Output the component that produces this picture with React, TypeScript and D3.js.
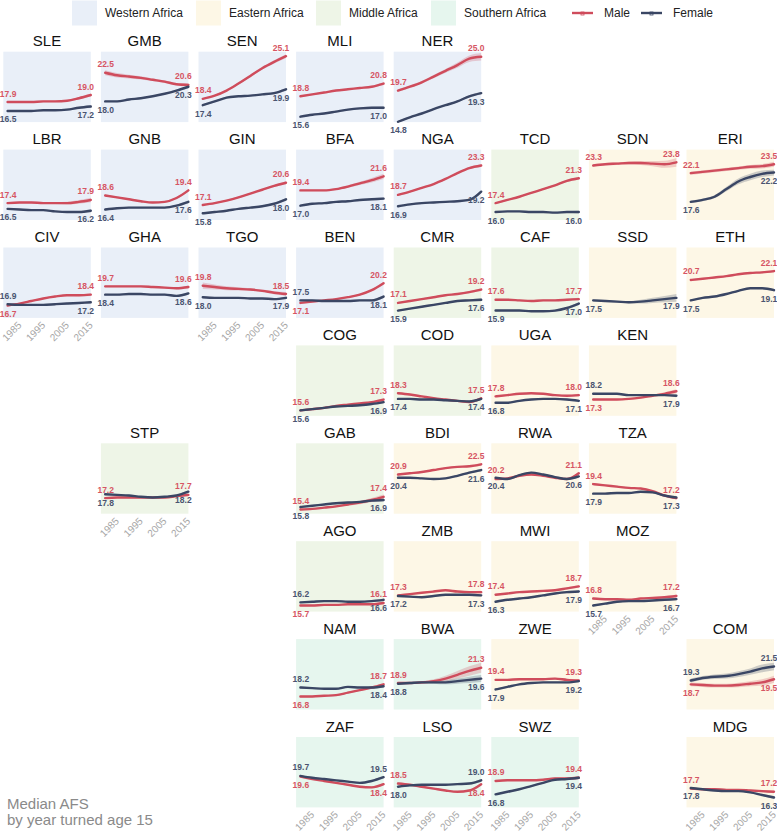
import React from 'react';
import * as d3 from 'd3';

// ---------- data ----------
const years = [1981, 1986, 1991, 1996, 2001, 2006, 2011, 2016];
const tickYears = [1985, 1995, 2005, 2015];

const regions = ['Western Africa', 'Eastern Africa', 'Middle Africa', 'Southern Africa'];
const regionFill = ['#e9eff8', '#fdf7e6', '#eef5e7', '#e6f6ee'];

// geofacet grid: [code, row, col, regionIndex]
const geoGrid: [string, number, number, number][] = [
  ['SLE', 0, 0, 0], ['GMB', 0, 1, 0], ['SEN', 0, 2, 0], ['MLI', 0, 3, 0], ['NER', 0, 4, 0],
  ['LBR', 1, 0, 0], ['GNB', 1, 1, 0], ['GIN', 1, 2, 0], ['BFA', 1, 3, 0], ['NGA', 1, 4, 0], ['TCD', 1, 5, 2], ['SDN', 1, 6, 1], ['ERI', 1, 7, 1],
  ['CIV', 2, 0, 0], ['GHA', 2, 1, 0], ['TGO', 2, 2, 0], ['BEN', 2, 3, 0], ['CMR', 2, 4, 2], ['CAF', 2, 5, 2], ['SSD', 2, 6, 1], ['ETH', 2, 7, 1],
  ['COG', 3, 3, 2], ['COD', 3, 4, 2], ['UGA', 3, 5, 1], ['KEN', 3, 6, 1],
  ['STP', 4, 1, 2], ['GAB', 4, 3, 2], ['BDI', 4, 4, 1], ['RWA', 4, 5, 1], ['TZA', 4, 6, 1],
  ['AGO', 5, 3, 2], ['ZMB', 5, 4, 1], ['MWI', 5, 5, 1], ['MOZ', 5, 6, 1],
  ['NAM', 6, 3, 3], ['BWA', 6, 4, 3], ['ZWE', 6, 5, 1], ['COM', 6, 7, 1],
  ['ZAF', 7, 3, 3], ['LSO', 7, 4, 3], ['SWZ', 7, 5, 3], ['MDG', 7, 7, 1],
];

// median AFS, male, in geoGrid order (null = no data)
const maleAFS: (number[] | null)[] = [
  [17.9, 17.9, 17.9, 18.0, 18.0, 18.1, 18.5, 19.0], // SLE
  [22.5, 22.1, 21.9, 21.7, 21.4, 21.1, 20.7, 20.6], // GMB
  [18.4, 18.9, 19.7, 20.8, 22.0, 23.2, 24.2, 25.1], // SEN
  [18.8, 19.1, 19.4, 19.7, 19.9, 20.1, 20.3, 20.8], // MLI
  [19.7, 20.3, 21.0, 21.9, 22.8, 23.7, 24.7, 25.0], // NER
  [17.4, 17.5, 17.5, 17.4, 17.4, 17.4, 17.6, 17.9], // LBR
  [18.6, 18.3, 18.0, 17.7, 17.5, 17.6, 18.2, 19.4], // GNB
  [17.1, 17.4, 17.8, 18.3, 18.9, 19.5, 20.1, 20.6], // GIN
  [19.4, 19.4, 19.4, 19.6, 20.0, 20.5, 21.0, 21.6], // BFA
  [18.7, 19.2, 19.8, 20.4, 21.2, 22.1, 22.9, 23.3], // NGA
  [17.4, 17.9, 18.4, 19.0, 19.6, 20.2, 20.9, 21.3], // TCD
  [23.3, 23.5, 23.6, 23.7, 23.7, 23.6, 23.5, 23.8], // SDN
  [22.1, 22.3, 22.5, 22.7, 22.9, 23.1, 23.2, 23.5], // ERI
  [16.7, 17.0, 17.4, 17.8, 18.1, 18.3, 18.3, 18.4], // CIV
  [19.7, 19.7, 19.7, 19.7, 19.6, 19.5, 19.4, 19.6], // GHA
  [19.8, 19.6, 19.4, 19.3, 19.2, 19.0, 18.7, 18.5], // TGO
  [17.1, 17.3, 17.5, 17.7, 18.0, 18.4, 19.1, 20.2], // BEN
  [17.1, 17.4, 17.7, 18.0, 18.3, 18.5, 18.8, 19.2], // CMR
  [17.6, 17.6, 17.5, 17.4, 17.5, 17.5, 17.6, 17.7], // CAF
  null, // SSD
  [20.7, 20.9, 21.1, 21.3, 21.6, 21.8, 21.9, 22.1], // ETH
  [15.6, 15.8, 16.0, 16.3, 16.5, 16.7, 16.9, 17.3], // COG
  [18.3, 18.1, 17.8, 17.5, 17.3, 17.1, 16.9, 17.5], // COD
  [17.8, 18.0, 18.2, 18.3, 18.2, 18.0, 17.9, 18.0], // UGA
  [17.3, 17.3, 17.3, 17.4, 17.6, 17.9, 18.2, 18.6], // KEN
  [17.2, 17.3, 17.3, 17.3, 17.3, 17.3, 17.5, 17.7], // STP
  [15.4, 15.5, 15.7, 15.9, 16.2, 16.5, 16.9, 17.4], // GAB
  [20.9, 21.1, 21.3, 21.6, 21.9, 22.1, 22.2, 22.5], // BDI
  [20.2, 20.3, 20.7, 20.9, 20.7, 20.4, 20.2, 21.1], // RWA
  [19.4, 19.2, 19.0, 18.8, 18.7, 18.3, 17.6, 17.2], // TZA
  [15.7, 15.7, 15.8, 15.8, 15.9, 15.9, 15.9, 16.1], // AGO
  [17.3, 17.5, 17.7, 17.9, 18.1, 17.9, 17.8, 17.8], // ZMB
  [17.4, 17.6, 17.8, 17.9, 18.0, 18.1, 18.4, 18.7], // MWI
  [16.8, 16.7, 16.7, 16.6, 16.8, 16.9, 17.0, 17.2], // MOZ
  [16.8, 16.8, 16.9, 17.0, 17.4, 17.8, 18.2, 18.7], // NAM
  [18.9, 18.9, 19.0, 19.2, 19.6, 20.2, 20.8, 21.3], // BWA
  [19.4, 19.4, 19.5, 19.5, 19.5, 19.6, 19.4, 19.3], // ZWE
  [18.7, 18.6, 18.5, 18.5, 18.6, 18.8, 19.0, 19.5], // COM
  [19.6, 19.2, 18.9, 18.6, 18.3, 18.0, 17.9, 18.4], // ZAF
  [18.5, 18.3, 18.0, 17.7, 17.4, 17.2, 17.4, 18.4], // LSO
  [18.9, 19.0, 19.0, 19.0, 19.1, 19.3, 19.3, 19.4], // SWZ
  [17.7, 17.6, 17.6, 17.5, 17.5, 17.4, 17.3, 17.2], // MDG
];

// median AFS, female, in geoGrid order
const femaleAFS: (number[] | null)[] = [
  [16.5, 16.5, 16.5, 16.6, 16.6, 16.7, 17.0, 17.2], // SLE
  [18.0, 18.0, 18.3, 18.5, 18.8, 19.2, 19.7, 20.3], // GMB
  [17.4, 18.0, 18.6, 18.8, 18.9, 19.1, 19.3, 19.9], // SEN
  [15.6, 15.9, 16.1, 16.4, 16.7, 16.9, 17.0, 17.0], // MLI
  [14.8, 15.5, 16.1, 16.8, 17.4, 18.0, 18.8, 19.3], // NER
  [16.5, 16.4, 16.3, 16.3, 16.1, 16.0, 16.0, 16.2], // LBR
  [16.4, 16.6, 16.7, 16.7, 16.7, 16.7, 17.0, 17.6], // GNB
  [15.8, 16.0, 16.2, 16.5, 16.7, 16.9, 17.3, 18.0], // GIN
  [17.0, 17.3, 17.4, 17.6, 17.7, 17.9, 18.0, 18.1], // BFA
  [16.9, 17.2, 17.4, 17.5, 17.6, 17.7, 17.9, 19.2], // NGA
  [16.0, 16.1, 16.1, 16.0, 16.0, 15.9, 16.0, 16.0], // TCD
  null, // SDN
  [17.6, 17.9, 18.4, 19.6, 20.8, 21.5, 22.0, 22.2], // ERI
  [16.9, 16.8, 16.8, 16.8, 16.9, 17.0, 17.1, 17.2], // CIV
  [18.4, 18.4, 18.5, 18.5, 18.4, 18.4, 18.2, 18.6], // GHA
  [18.0, 17.9, 17.9, 17.9, 17.8, 17.8, 17.7, 17.9], // TGO
  [17.5, 17.5, 17.4, 17.4, 17.4, 17.5, 17.5, 18.1], // BEN
  [15.9, 16.2, 16.5, 16.8, 17.1, 17.4, 17.5, 17.6], // CMR
  [15.9, 15.9, 15.9, 15.8, 15.8, 15.9, 16.3, 17.0], // CAF
  [17.5, 17.4, 17.3, 17.2, 17.3, 17.5, 17.7, 17.9], // SSD
  [17.5, 17.9, 18.1, 18.5, 19.0, 19.4, 19.4, 19.1], // ETH
  [15.6, 15.8, 16.0, 16.2, 16.3, 16.4, 16.6, 16.9], // COG
  [17.4, 17.4, 17.3, 17.3, 17.2, 17.1, 17.0, 17.4], // COD
  [16.8, 16.8, 17.1, 17.3, 17.4, 17.4, 17.3, 17.1], // UGA
  [18.2, 18.2, 18.2, 18.0, 18.0, 18.0, 18.0, 17.9], // KEN
  [17.8, 17.7, 17.6, 17.4, 17.3, 17.4, 17.6, 18.2], // STP
  [15.8, 16.0, 16.2, 16.4, 16.5, 16.6, 16.8, 16.9], // GAB
  [20.4, 20.4, 20.3, 20.2, 20.3, 20.7, 21.2, 21.6], // BDI
  [20.4, 20.2, 20.8, 21.2, 20.9, 20.5, 20.2, 20.6], // RWA
  [17.9, 17.9, 18.0, 18.0, 18.2, 18.1, 17.6, 17.3], // TZA
  [16.2, 16.3, 16.4, 16.4, 16.3, 16.3, 16.4, 16.6], // AGO
  [17.2, 17.1, 17.0, 17.2, 17.4, 17.4, 17.4, 17.3], // ZMB
  [16.3, 16.6, 16.8, 17.0, 17.3, 17.6, 17.8, 17.9], // MWI
  [15.7, 16.0, 16.3, 16.4, 16.4, 16.5, 16.6, 16.7], // MOZ
  [18.2, 18.1, 18.0, 18.0, 18.3, 18.2, 18.2, 18.4], // NAM
  [18.8, 18.9, 19.0, 19.0, 19.0, 19.2, 19.4, 19.6], // BWA
  [17.9, 18.3, 18.7, 18.9, 19.0, 19.0, 19.0, 19.2], // ZWE
  [19.3, 19.7, 19.9, 20.0, 20.3, 20.7, 21.2, 21.5], // COM
  [19.7, 19.4, 19.2, 19.0, 18.8, 18.6, 18.9, 19.5], // ZAF
  [18.0, 18.2, 18.3, 18.3, 18.3, 18.4, 18.5, 19.0], // LSO
  [16.8, 17.2, 17.6, 18.1, 18.6, 19.1, 19.2, 19.4], // SWZ
  [17.8, 17.6, 17.4, 17.3, 17.3, 17.1, 16.7, 16.3], // MDG
];

// uncertainty band half-widths (years of age)
const defaultBand = [0.15, 0.12, 0.12, 0.12, 0.12, 0.13, 0.16, 0.22];
const bandOverrides: [string, 'male' | 'female', number[]][] = [
  ['NER', 'male', [0.2, 0.2, 0.2, 0.25, 0.3, 0.4, 0.5, 0.6]],
  ['GMB', 'male', [0.4, 0.35, 0.3, 0.25, 0.2, 0.2, 0.2, 0.25]],
  ['SEN', 'male', [0.15, 0.15, 0.15, 0.15, 0.2, 0.2, 0.25, 0.3]],
  ['SDN', 'male', [0.2, 0.2, 0.2, 0.25, 0.3, 0.4, 0.55, 0.7]],
  ['ERI', 'male', [0.25, 0.25, 0.25, 0.25, 0.25, 0.3, 0.35, 0.4]],
  ['ERI', 'female', [0.2, 0.2, 0.25, 0.35, 0.45, 0.5, 0.5, 0.45]],
  ['SSD', 'female', [0.2, 0.15, 0.15, 0.2, 0.3, 0.4, 0.5, 0.6]],
  ['TGO', 'male', [0.5, 0.4, 0.3, 0.25, 0.2, 0.2, 0.25, 0.3]],
  ['BWA', 'male', [0.15, 0.15, 0.2, 0.3, 0.45, 0.6, 0.75, 0.8]],
  ['BWA', 'female', [0.15, 0.15, 0.15, 0.2, 0.3, 0.4, 0.5, 0.55]],
  ['COM', 'male', [0.3, 0.3, 0.3, 0.3, 0.35, 0.4, 0.5, 0.55]],
  ['COM', 'female', [0.3, 0.3, 0.35, 0.4, 0.45, 0.5, 0.6, 0.6]],
  ['BFA', 'male', [0.15, 0.12, 0.12, 0.15, 0.2, 0.25, 0.35, 0.4]],
  ['LBR', 'male', [0.15, 0.12, 0.12, 0.12, 0.15, 0.2, 0.28, 0.35]],
  ['KEN', 'male', [0.15, 0.12, 0.12, 0.12, 0.15, 0.2, 0.25, 0.3]],
  ['GAB', 'male', [0.15, 0.12, 0.12, 0.15, 0.2, 0.25, 0.3, 0.35]],
];

// which labels put the female value on top
const femaleAboveStart = ['CIV', 'BEN', 'KEN', 'AGO', 'NAM', 'ZAF', 'COM'];
const femaleAboveEnd = ['ZAF', 'LSO', 'COM'];

// ---------- layout / style ----------
const PW = 87.5;
const PH = 70.4;
const COL0 = 3.3;
const COLSTEP = 97.6;
const ROW0 = 51.7;
const ROWSTEP = 97.9;
const FONT = '"Liberation Sans", Arial, Helvetica, sans-serif';
const MALE = '#cf4c5c';
const FEMALE = '#3a4664';
const MALE_TXT = '#d65563';
const FEMALE_TXT = '#4a5470';

type Pt = [number, number];

export default function App() {
  const x = d3.scaleLinear().domain([1979.2, 2016]).range([0, PW]);
  const y = d3.scaleLinear().domain([14.75, 25.8]).range([PH, 0]);
  const line = d3.line<Pt>().x(d => x(d[0])).y(d => y(d[1])).curve(d3.curveMonotoneX);
  const area = d3
    .area<[number, number, number]>()
    .x(d => x(d[0]))
    .y0(d => y(d[1] - d[2]))
    .y1(d => y(d[1] + d[2]))
    .curve(d3.curveMonotoneX);

  // bottom-most panel in each column gets the x axis
  const bottomRow = new Map<number, number>();
  geoGrid.forEach(([, r, c]) => bottomRow.set(c, Math.max(bottomRow.get(c) ?? -1, r)));

  const bandFor = (code: string, sex: 'male' | 'female') => {
    const o = bandOverrides.find(b => b[0] === code && b[1] === sex);
    return o ? o[2] : defaultBand;
  };

  const legendRegionX = [72, 196, 316, 431];

  return (
    <svg
      width={777}
      height={833}
      style={{ position: 'absolute', left: 0, top: 0, fontFamily: FONT }}
    >
      <rect width={777} height={833} fill="#ffffff" />
      {/* legend */}
      {regions.map((r, i) => (
        <g key={r}>
          <rect x={legendRegionX[i]} y={0.5} width={25} height={25} fill={regionFill[i]} />
          <text x={legendRegionX[i] + 33} y={17} fontSize={12} fill="#222">
            {r}
          </text>
        </g>
      ))}
      {[
        { lab: 'Male', col: MALE, x0: 572 },
        { lab: 'Female', col: FEMALE, x0: 641 },
      ].map(k => (
        <g key={k.lab}>
          <line x1={k.x0} x2={k.x0 + 21} y1={13} y2={13} stroke={k.col} strokeWidth={2.4} />
          <rect x={k.x0 + 9} y={12} width={3} height={3} fill="none" stroke={k.col} strokeWidth={0.8} />
          <text x={k.x0 + 32} y={17} fontSize={12} fill="#222">
            {k.lab}
          </text>
        </g>
      ))}

      {geoGrid.map(([code, r, c, reg], i) => {
        const px = COL0 + c * COLSTEP;
        const py = ROW0 + r * ROWSTEP;
        const series: { sex: 'male' | 'female'; vals: number[]; col: string; txt: string }[] = [];
        if (maleAFS[i]) series.push({ sex: 'male', vals: maleAFS[i] as number[], col: MALE, txt: MALE_TXT });
        if (femaleAFS[i]) series.push({ sex: 'female', vals: femaleAFS[i] as number[], col: FEMALE, txt: FEMALE_TXT });
        const showAxis = bottomRow.get(c) === r;
        const labels: React.ReactNode[] = [];
        series.forEach(s => {
          const n = s.vals.length;
          const aboveStart = (s.sex === 'male') !== femaleAboveStart.includes(code);
          const aboveEnd = (s.sex === 'male') !== femaleAboveEnd.includes(code);
          const ys = y(s.vals[0]);
          const ye = y(s.vals[n - 1]);
          labels.push(
            <text
              key={s.sex + 's'}
              x={x(years[0]) + 0.5}
              y={aboveStart ? ys - 5.5 : ys + 11.5}
              textAnchor="middle"
              fontSize={8.5}
              fontWeight="bold"
              fill={s.txt}
            >
              {s.vals[0].toFixed(1)}
            </text>,
            <text
              key={s.sex + 'e'}
              x={PW - 5}
              y={aboveEnd ? ye - 5.5 : ye + 11.5}
              textAnchor="middle"
              fontSize={8.5}
              fontWeight="bold"
              fill={s.txt}
            >
              {s.vals[n - 1].toFixed(1)}
            </text>
          );
        });
        return (
          <g key={code} transform={`translate(${px},${py})`}>
            <text x={PW / 2} y={-5.5} textAnchor="middle" fontSize={15} fill="#111">
              {code}
            </text>
            <rect width={PW} height={PH} fill={regionFill[reg]} />
            {series.map(s => {
              const band = bandFor(code, s.sex);
              const pts: [number, number, number][] = years.map((yr, k) => [yr, s.vals[k], band[k]]);
              return (
                <path key={s.sex + 'b'} d={area(pts) || ''} fill={s.col} fillOpacity={0.25} stroke="none" />
              );
            })}
            {series.map(s => (
              <path
                key={s.sex + 'l'}
                d={line(years.map((yr, k) => [yr, s.vals[k]] as Pt)) || ''}
                fill="none"
                stroke={s.col}
                strokeWidth={2.4}
                strokeLinecap="round"
              />
            ))}
            {labels}
            {showAxis &&
              tickYears.map(t => (
                <text
                  key={t}
                  transform={`translate(${x(t)},${PH + 3}) rotate(-45)`}
                  textAnchor="end"
                  dy="0.71em"
                  fontSize={10}
                  fill="#a6a6a6"
                >
                  {t}
                </text>
              ))}
          </g>
        );
      })}

      <text x={7} y={809} fontSize={15} fill="#8a8a8a">
        Median AFS
      </text>
      <text x={7} y={825} fontSize={15} fill="#8a8a8a">
        by year turned age 15
      </text>
    </svg>
  );
}
